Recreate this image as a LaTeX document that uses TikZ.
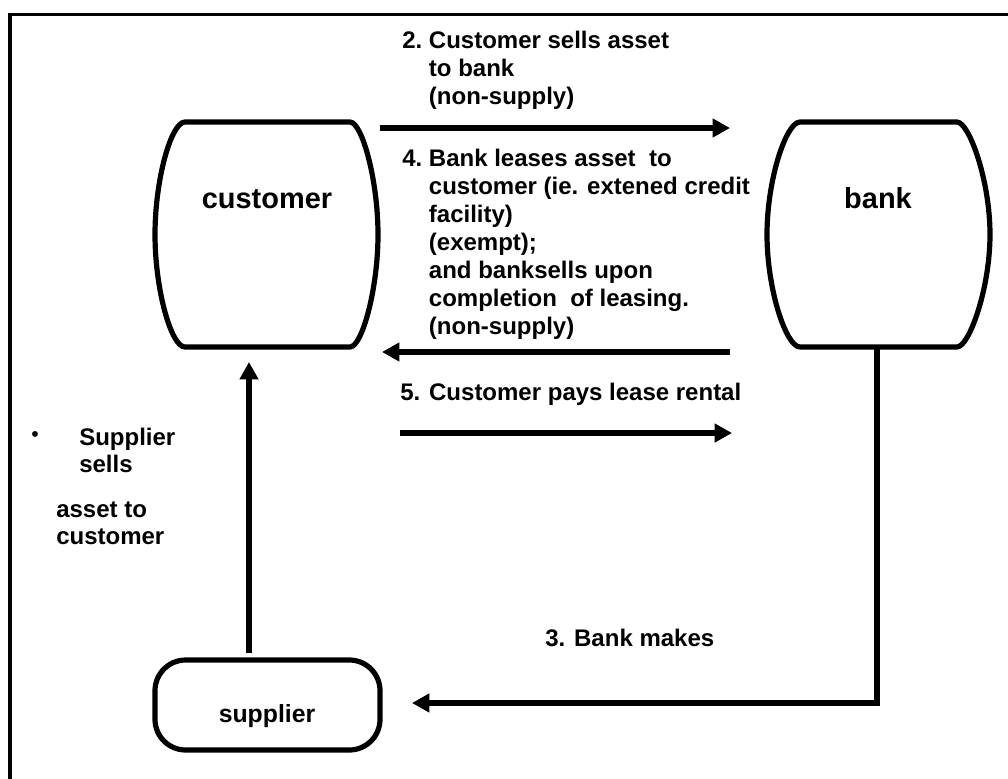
\documentclass[tikz,border=0pt]{standalone}
\usepackage{fontspec}
\setmainfont{Liberation Sans}
\usetikzlibrary{arrows.meta}
\begin{document}
\begin{tikzpicture}[x=0.75pt,y=-0.75pt,
  shapeline/.style={line width=3.9pt, line join=round},
  flow/.style={line width=4.1pt, -{Triangle[length=13pt,width=13.5pt]}},
  lbl/.style={inner sep=0pt, font=\bfseries\fontsize{18}{21}\selectfont, anchor=base west},
  ent/.style={inner sep=0pt, font=\bfseries\fontsize{21.7}{25}\selectfont, anchor=base},
]
\useasboundingbox (0,0) rectangle (1008,779);
\draw[line width=2.3pt] (10,790) -- (10,14.5) -- (1020,14.5);

% customer barrel
\draw[shapeline] (185,122) -- (350,122)
  .. controls (362,122) and (378,180) .. (378,234.5)
  .. controls (378,289) and (362,347) .. (350,347) -- (185,347)
  .. controls (171,347) and (155,289) .. (155,234.5)
  .. controls (155,180) and (171,122) .. (185,122) -- cycle;
% bank barrel
\draw[shapeline] (800,122) -- (957,122)
  .. controls (969,122) and (990,180) .. (990,234.5)
  .. controls (990,289) and (969,347) .. (957,347) -- (800,347)
  .. controls (786,347) and (767,289) .. (767,234.5)
  .. controls (767,180) and (786,122) .. (800,122) -- cycle;
% supplier
\draw[shapeline, rounded corners=23pt] (155,660) rectangle (380,750);

\node[ent] (customer) at (267,208) {customer};
\node[ent] (bank) at (878,208) {bank};
\node[ent, font=\bfseries\fontsize{18.6}{22}\selectfont] (supplier) at (267,722) {supplier};

% connectors
\coordinate (c2s) at (380,128);
\coordinate (c2e) at (730,128);
\draw[flow] (c2s) -- (c2e);
\coordinate (b4s) at (730,352);
\coordinate (b4e) at (382,352);
\draw[flow] (b4s) -- (b4e);
\coordinate (c5s) at (400,433);
\coordinate (c5e) at (732,433);
\draw[flow] (c5s) -- (c5e);
\coordinate (s1s) at (249,653);
\coordinate (s1e) at (249,362);
\draw[flow] (s1s) -- (s1e);
\coordinate (b3s) at (877,348);
\coordinate (b3c) at (877,703);
\coordinate (b3e) at (412,703);
\draw[flow, line join=miter] (b3s) -- (b3c) -- (b3e);

% labels
\node[lbl] (l2) at (402,48.5) {\begin{tabular}[t]{@{}l@{\hspace{5pt}}l@{}}2. & Customer sells asset\\ & to bank\\ & (non-supply)\end{tabular}};
\node[lbl] (l4) at (402,166.5) {\begin{tabular}[t]{@{}l@{\hspace{5pt}}l@{}}4. & Bank leases asset~ to\\ & customer (ie. extened credit\\ & facility)\\ & (exempt);\\ & and banksells upon\\ & completion~ of leasing.\\ & (non-supply)\end{tabular}};
\node[lbl] (l5) at (400,400.5) {5. Customer pays lease rental};
\node[lbl] (l3) at (545,646.5) {3. Bank makes};
\node[inner sep=0pt] (bul) at (35,437) {\fontsize{16}{16}\selectfont •};
\node[lbl, font=\bfseries\fontsize{18}{20.25}\selectfont] (l1a) at (79,445) {\begin{tabular}[t]{@{}l@{}}Supplier\\sells\end{tabular}};
\node[lbl, font=\bfseries\fontsize{18}{20.25}\selectfont] (l1b) at (56,517) {\begin{tabular}[t]{@{}l@{}}asset to\\customer\end{tabular}};
\end{tikzpicture}
\end{document}
